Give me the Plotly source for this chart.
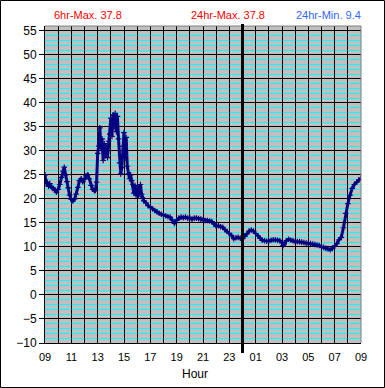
import plotly.graph_objects as go

# time in minutes after 09:00, temperature values
minutes = [0, 5, 10, 16, 22, 30, 37, 45, 52, 60, 67, 75, 82, 88, 94, 100, 106, 112, 120, 127,
           135, 142, 150, 157, 165, 172, 180, 187, 195, 202, 210, 217, 225, 230, 235, 240, 245,
           250, 255, 260, 265, 270, 275, 280, 285, 290, 295, 300, 305, 310, 315, 320, 325, 330,
           335, 340, 345, 350, 355, 360, 365, 370, 375, 380, 385, 390, 395, 400, 405, 410, 415,
           420, 425, 430, 435, 440, 445, 450, 460, 470, 480, 490, 500, 510, 520, 530, 540, 550,
           560, 570, 580, 590, 600, 610, 620, 630, 640, 650, 660, 670, 680, 690, 700, 710, 720,
           730, 740, 750, 760, 770, 780, 790, 800, 810, 820, 830, 840, 850, 860, 870, 880, 890,
           900, 910, 920, 930, 940, 950, 960, 970, 980, 990, 1000, 1010, 1020, 1030, 1040, 1050,
           1060, 1070, 1080, 1085, 1090, 1100, 1110, 1120, 1130, 1140, 1150, 1160, 1170, 1180,
           1190, 1200, 1210, 1220, 1230, 1240, 1250, 1260, 1270, 1280, 1290, 1300, 1310, 1320,
           1330, 1340, 1350, 1360, 1370, 1380, 1390, 1400, 1410, 1420, 1430, 1440]
temps = [25.0, 23.2, 23.5, 22.6, 23.2, 22.4, 22.2, 21.9, 21.4, 22.0, 23.0, 24.5, 25.8, 26.6,
         25.0, 23.6, 22.3, 20.8, 19.9, 19.6, 20.0, 21.0, 22.4, 23.8, 24.2, 23.6, 24.1, 24.8,
         25.0, 24.2, 22.8, 22.0, 21.7, 21.8, 23.5, 29.5, 31.0, 34.8, 30.5, 32.5, 28.0, 31.5,
         29.0, 30.8, 28.6, 32.0, 33.5, 36.8, 33.0, 37.5, 35.0, 37.8, 34.0, 37.2, 32.5, 27.5,
         25.2, 26.5, 31.0, 33.8, 28.5, 32.8, 26.8, 25.2, 24.2, 25.0, 23.8, 23.0, 21.2, 22.8,
         20.8, 22.2, 20.6, 22.5, 23.0, 21.0, 20.2, 19.6, 19.2, 18.6, 18.3, 17.9, 17.6, 17.3,
         17.0, 16.8, 16.6, 16.5, 16.3, 16.2, 15.6, 14.9, 15.6, 16.0, 16.2, 16.1, 16.2, 16.0,
         16.0, 15.8, 16.0, 16.0, 15.9, 15.8, 15.6, 15.5, 15.5, 15.4, 15.3, 14.8, 14.3, 14.4,
         14.2, 14.1, 13.6, 13.2, 12.8, 12.4, 11.7, 11.9, 12.0, 11.8, 11.9, 12.2, 12.7, 13.3,
         13.5, 13.3, 12.8, 12.3, 11.8, 11.4, 11.3, 11.2, 11.25, 11.4, 11.5, 11.5, 11.4, 11.3,
         10.9, 10.3, 10.6, 11.3, 11.6, 11.4, 11.3, 11.1, 11.1, 11.1, 11.0, 10.9, 10.8, 10.8,
         10.7, 10.6, 10.5, 10.4, 10.3, 10.0, 9.9, 9.7, 9.6, 9.4, 9.7, 10.2, 10.7, 11.5, 12.0,
         14.0, 17.0, 19.0, 20.8, 22.2, 23.0, 23.5, 24.0, 24.3, 24.5]

x_tick_vals = [60 * i for i in range(25)]
x_tick_labels = ['09', '', '11', '', '13', '', '15', '', '17', '', '19', '', '21', '', '23', '',
                 '01', '', '03', '', '05', '', '07', '', '09']
y_tick_vals = [-10, -5, 0, 5, 10, 15, 20, 25, 30, 35, 40, 45, 50, 55]

header_texts = ['6hr-Max. 37.8', '24hr-Max. 37.8', '24hr-Min. 9.4']

FONT = 'Liberation Sans, Arial, sans-serif'
NAVY = '#000080'

fig = go.Figure()
fig.add_trace(go.Scatter(
    x=minutes, y=temps, mode='lines+markers',
    line=dict(color=NAVY, width=3),
    marker=dict(symbol='cross-thin', size=4, color=NAVY, line=dict(color=NAVY, width=1.2)),
    hoverinfo='skip', showlegend=False))

L, R, T, B = 45, 24, 26, 45
W, H = 385, 388
pw, ph = W - L - R, H - T - B

def px(xp):
    return (xp - L) / pw

def py(yp):
    return (H - B - yp) / ph

fig.update_layout(
    width=W, height=H,
    margin=dict(l=L, r=R, t=T, b=B, pad=0),
    paper_bgcolor='white', plot_bgcolor='#C0C0C0',
    font=dict(family=FONT, color='black'),
    showlegend=False,
)
fig.update_xaxes(
    range=[0, 1440], tickmode='array', tickvals=x_tick_vals, ticktext=x_tick_labels,
    showgrid=True, gridcolor='black', gridwidth=1, zeroline=False,
    showline=True, linecolor='black', linewidth=1,
    ticks='outside', ticklen=4, tickcolor='rgba(0,0,0,0)',
    tickfont=dict(family=FONT, size=11, color='black'),
)
fig.update_yaxes(
    range=[-10, 56], tickmode='array', tickvals=y_tick_vals,
    showgrid=True, gridcolor='black', gridwidth=1, zeroline=False,
    showline=True, linecolor='black', linewidth=1,
    ticks='outside', ticklen=5, tickcolor='black',
    tickfont=dict(family=FONT, size=12, color='black'),
    minor=dict(dtick=1, showgrid=True, gridcolor='#00FFFF', gridwidth=1, ticks=''),
)

# plot area border (gray on top / right)
fig.add_shape(type='line', xref='paper', yref='paper', x0=0, x1=1, y0=1, y1=1,
              line=dict(color='#808080', width=1))
fig.add_shape(type='line', xref='paper', yref='paper', x0=1, x1=1, y0=0, y1=1,
              line=dict(color='#808080', width=1))
# midnight marker
fig.add_shape(type='line', xref='paper', yref='paper', x0=0.625, x1=0.625,
              y0=py(353), y1=py(24), line=dict(color='black', width=3))
# outer frame
fig.add_shape(type='rect', xref='paper', yref='paper',
              x0=px(0.5), x1=px(W - 0.5), y0=py(H - 0.5), y1=py(0.5),
              line=dict(color='black', width=1))

header_x = [88, 228, 328.5]
header_colors = ['#FF0000', '#FF0000', '#3366FF']
for t, xx, c in zip(header_texts, header_x, header_colors):
    fig.add_annotation(text=t, xref='paper', yref='paper', x=px(xx), y=py(15.5),
                       xanchor='center', yanchor='middle', showarrow=False,
                       font=dict(family=FONT, size=11, color=c))
fig.add_annotation(text='Hour', xref='paper', yref='paper', x=px(194.5), y=py(374),
                   xanchor='center', yanchor='middle', showarrow=False,
                   font=dict(family=FONT, size=12, color='black'))

fig.write_html('out.html', config={'displayModeBar': False},
               post_script="document.body.style.margin='0';document.body.style.overflow='hidden';")
